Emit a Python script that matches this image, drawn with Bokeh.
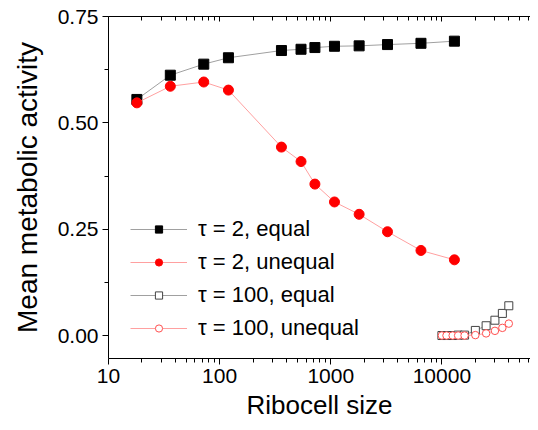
from bokeh.plotting import figure
from bokeh.models import LogAxis, FixedTicker, Legend, LegendItem, Range1d, PrintfTickFormatter
from bokeh.embed import file_html
from bokeh.resources import INLINE

# ---- data ----
size_small = [18, 36, 72, 120, 360, 540, 720, 1080, 1800, 3240, 6480, 12960]
tau2_equal = [0.555, 0.612, 0.638, 0.653, 0.670, 0.673, 0.677, 0.680, 0.681, 0.684, 0.687, 0.692]
tau2_unequal = [0.547, 0.586, 0.596, 0.577, 0.443, 0.409, 0.356, 0.314, 0.285, 0.244, 0.200, 0.178]

size_large = [10000, 11000, 12500, 14000, 16000, 20000, 25000, 30000, 35000, 40000]
tau100_equal = [0.0, 0.0, 0.0, 0.001, 0.001, 0.012, 0.023, 0.036, 0.052, 0.070]
tau100_unequal = [0.0, 0.0, 0.0, 0.0, 0.0, 0.001, 0.005, 0.011, 0.018, 0.028]

x_major = [10, 100, 1000, 10000]
y_major = [0.0, 0.25, 0.50, 0.75]

FONT = "Liberation Sans"

p = figure(width=530, height=422, x_axis_type="log",
           x_range=Range1d(10, 62700), y_range=Range1d(-0.054, 0.75),
           output_backend="svg", toolbar_location=None,
           min_border_left=108, min_border_right=0, min_border_top=16, min_border_bottom=60)
p.grid.visible = False
p.outline_line_color = None
p.background_fill_color = "white"

x_minor = [m * 10 ** k for k in range(1, 5) for m in range(2, 10)]
xticker = FixedTicker(ticks=x_major, minor_ticks=x_minor)
y_minor = [0.125, 0.375, 0.625]
yticker = FixedTicker(ticks=y_major, minor_ticks=y_minor)

xa = p.xaxis[0]
xa.ticker = xticker
xa.formatter = PrintfTickFormatter(format="%d")
xa.axis_label = "Ribocell size"
ya = p.yaxis[0]
ya.ticker = yticker
ya.formatter = PrintfTickFormatter(format="%.2f")
ya.axis_label = "Mean metabolic activity"

for ax in (xa, ya):
    ax.axis_label_text_font = FONT
    ax.axis_label_text_font_style = "normal"
    ax.axis_label_text_color = "black"
    ax.major_label_text_font = FONT
    ax.major_label_text_font_size = "21px"
    ax.major_label_text_color = "black"
    ax.axis_line_color = "black"
    ax.major_tick_in = 0
    ax.major_tick_out = 6
    ax.minor_tick_in = 0
    ax.minor_tick_out = 4
    ax.major_tick_line_color = "black"
    ax.minor_tick_line_color = "black"
    ax.major_label_standoff = 4
xa.axis_label_text_font_size = "26px"
ya.axis_label_text_font_size = "28px"
ya.axis_label_standoff = 12
xa.axis_label_standoff = 4

top = LogAxis(ticker=xticker, major_label_text_font_size="1px", major_label_text_color=None,
              major_tick_in=5, major_tick_out=0, minor_tick_in=4, minor_tick_out=0,
              major_label_standoff=0, axis_line_color="black")
p.add_layout(top, "above")

l1 = p.line(size_small, tau2_equal, line_color="#a0a0a0", line_width=1)
m1 = p.scatter(size_small, tau2_equal, marker="square", size=10, fill_color="black", line_color="black")
l2 = p.line(size_small, tau2_unequal, line_color="#ffa0a0", line_width=1)
m2 = p.scatter(size_small, tau2_unequal, marker="circle", size=10, fill_color="#ff0000", line_color="#ff0000")
l3 = p.line(size_large, tau100_equal, line_color="#a0a0a0", line_width=1)
m3 = p.scatter(size_large, tau100_equal, marker="square", size=8, fill_color="white", line_color="#444444", line_width=1)
l4 = p.line(size_large, tau100_unequal, line_color="#ffa0a0", line_width=1)
m4 = p.scatter(size_large, tau100_unequal, marker="circle", size=7.5, fill_color="white", line_color="#ff5050", line_width=1)

legend = Legend(items=[
    LegendItem(label="τ = 2, equal", renderers=[l1, m1]),
    LegendItem(label="τ = 2, unequal", renderers=[l2, m2]),
    LegendItem(label="τ = 100, equal", renderers=[l3, m3]),
    LegendItem(label="τ = 100, unequal", renderers=[l4, m4]),
], location=(22, 17), glyph_width=57, glyph_height=18, label_height=18, spacing=7,
   padding=0, margin=0, label_standoff=11, border_line_color=None,
   background_fill_alpha=0, label_text_font=FONT, label_text_font_size="22px",
   label_text_color="black")
p.add_layout(legend, "center")

open("out.html", "w").write(file_html(p, INLINE))
